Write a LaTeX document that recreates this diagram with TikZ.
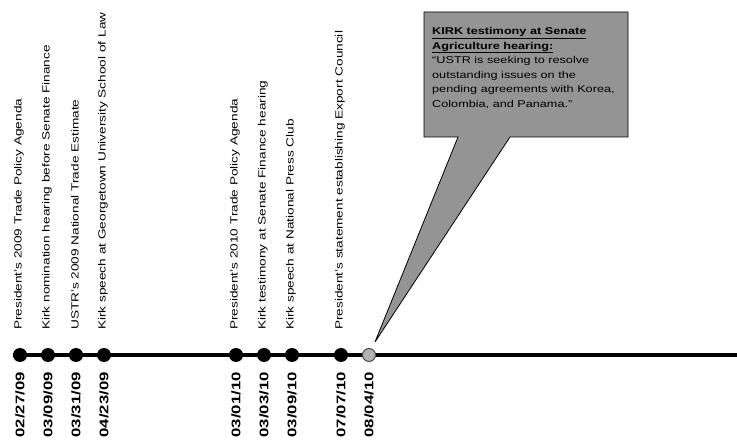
\documentclass[tikz,border=0pt]{standalone}
\usepackage{fontspec}
\setmainfont{Liberation Sans}
\newcommand{\wideevt}[1]{\scalebox{1.31}[1]{#1}}
\newcommand{\widedate}[1]{\scalebox{1.34}[1]{#1}}
\begin{document}
\begin{tikzpicture}[x=1pt,y=-1pt,
  evt/.style={rotate=90,anchor=west,inner sep=0pt,font=\fontsize{10.4}{12}\selectfont},
  dlab/.style={rotate=90,anchor=east,inner sep=0pt,font=\bfseries\fontsize{12.5}{14}\selectfont},
  dotb/.style={circle,fill=black,minimum size=14pt,inner sep=0pt},
  dotg/.style={circle,fill=black!30,draw=black!70,line width=1pt,minimum size=13pt,inner sep=0pt},
  callfill/.style={fill=black!42,draw=black,line width=0.8pt}]
\useasboundingbox (0,0) rectangle (737,443);
% callout
\draw[callfill] (424,12) -- (628,12) -- (628,137) -- (510,137) -- (375,342) -- (458,137) -- (424,137) -- cycle;
\node[anchor=north west,inner sep=0pt,font=\fontsize{9.9}{14.6}\selectfont] (call) at (432,24)
  {\scalebox{1.28}[1]{\begin{tabular}{@{}l@{}}
   \textbf{\underline{KIRK testimony at Senate}}\\
   \textbf{\underline{Agriculture hearing:}}\\
   ``USTR is seeking to resolve\\
   outstanding issues on the\\
   pending agreements with Korea,\\
   Colombia, and Panama.''
   \end{tabular}}};
% timeline
\coordinate (ls) at (13,355);
\coordinate (le) at (737,355);
\draw[line width=4pt] (ls) -- (le);
\foreach \n/\x in {1/20,2/48,3/76,4/104,5/236,6/264,7/292,8/341}
  \node[dotb] (d\n) at (\x,355) {};
\node[dotg] (d9) at (369,355) {};
% dates
\node[dlab] (t1) at (20,372) {\widedate{02/27/09}};
\node[dlab] (t2) at (48,372) {\widedate{03/09/09}};
\node[dlab] (t3) at (76,372) {\widedate{03/31/09}};
\node[dlab] (t4) at (104,372) {\widedate{04/23/09}};
\node[dlab] (t5) at (236,372) {\widedate{03/01/10}};
\node[dlab] (t6) at (264,372) {\widedate{03/03/10}};
\node[dlab] (t7) at (292,372) {\widedate{03/09/10}};
\node[dlab] (t8) at (341,372) {\widedate{07/07/10}};
\node[dlab] (t9) at (369,372) {\widedate{08/04/10}};
% events
\node[evt] (e1) at (19,330) {\wideevt{President's 2009 Trade Policy Agenda}};
\node[evt] (e2) at (47,330) {\wideevt{Kirk nomination hearing before Senate Finance}};
\node[evt] (e3) at (75,330) {\wideevt{USTR's 2009 National Trade Estimate}};
\node[evt] (e4) at (103,330) {\wideevt{Kirk speech at Georgetown University School of Law}};
\node[evt] (e5) at (235,330) {\wideevt{President's 2010 Trade Policy Agenda}};
\node[evt] (e6) at (263,330) {\wideevt{Kirk testimony at Senate Finance hearing}};
\node[evt] (e7) at (291,330) {\wideevt{Kirk speech at National Press Club}};
\node[evt] (e8) at (340,330) {\wideevt{President's statement establishing Export Council}};
\end{tikzpicture}
\end{document}
